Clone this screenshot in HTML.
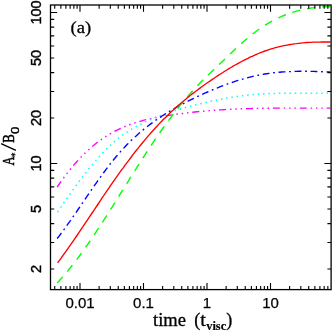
<!DOCTYPE html><html><head><meta charset="utf-8"><style>html,body{margin:0;padding:0;background:#fff}svg{display:block;will-change:transform}text{fill:#000;stroke:#000;stroke-width:0.3px}.s{font-family:"Liberation Sans",sans-serif;font-size:15px;stroke-width:0.25px}.sy{font-size:14.5px;stroke-width:0.42px}.r{font-family:"Liberation Serif",serif;font-size:18.5px}</style></head><body>
<svg width="333" height="332" viewBox="0 0 333 332">
<rect width="333" height="332" fill="#fff"/>
<path d="M57.2,187.1 L59.3,184.0 L61.4,180.9 L63.6,178.0 L65.7,175.1 L67.8,172.4 L69.9,169.7 L72.0,167.1 L74.1,164.6 L76.3,162.2 L78.4,159.9 L80.5,157.6 L82.6,155.5 L84.7,153.4 L86.8,151.3 L89.0,149.4 L91.1,147.5 L93.2,145.7 L95.3,144.0 L97.4,142.3 L99.6,140.7 L101.7,139.2 L103.8,137.8 L105.9,136.4 L108.0,135.0 L110.1,133.8 L112.3,132.6 L114.4,131.4 L116.5,130.3 L118.6,129.3 L120.7,128.3 L122.9,127.3 L125.0,126.5 L127.1,125.6 L129.2,124.8 L131.3,124.0 L133.4,123.3 L135.6,122.6 L137.7,122.0 L139.8,121.4 L141.9,120.8 L144.0,120.2 L146.1,119.7 L148.3,119.2 L150.4,118.7 L152.5,118.3 L154.6,117.9 L156.7,117.4 L158.9,117.1 L161.0,116.7 L163.1,116.3 L165.2,116.0 L167.3,115.6 L169.4,115.3 L171.6,115.0 L173.7,114.6 L175.8,114.3 L177.9,114.0 L180.0,113.8 L182.2,113.5 L184.3,113.2 L186.4,113.0 L188.5,112.7 L190.6,112.5 L192.7,112.2 L194.9,112.0 L197.0,111.8 L199.1,111.6 L201.2,111.4 L203.3,111.2 L205.4,111.0 L207.6,110.8 L209.7,110.6 L211.8,110.5 L213.9,110.3 L216.0,110.2 L218.2,110.0 L220.3,109.9 L222.4,109.8 L224.5,109.6 L226.6,109.5 L228.7,109.4 L230.9,109.3 L233.0,109.2 L235.1,109.1 L237.2,109.0 L239.3,108.9 L241.5,108.8 L243.6,108.8 L245.7,108.7 L247.8,108.6 L249.9,108.6 L252.0,108.5 L254.2,108.5 L256.3,108.4 L258.4,108.4 L260.5,108.3 L262.6,108.3 L264.7,108.2 L266.9,108.2 L269.0,108.2 L271.1,108.2 L273.2,108.1 L275.3,108.1 L277.5,108.1 L279.6,108.1 L281.7,108.1 L283.8,108.1 L285.9,108.1 L288.0,108.1 L290.2,108.1 L292.3,108.1 L294.4,108.1 L296.5,108.1 L298.6,108.1 L300.8,108.1 L302.9,108.1 L305.0,108.1 L307.1,108.1 L309.2,108.1 L311.3,108.1 L313.5,108.1 L315.6,108.1 L317.7,108.1 L319.8,108.1 L321.9,108.1 L324.0,108.1 L326.2,108.1 L328.3,108.1 L330.4,108.1" fill="none" stroke="#ff00ff" stroke-width="1.38" stroke-dasharray="7 3.85 1.5 3.85 1.5 3.85 1.5 3.85"/>
<path d="M57.6,212.1 L59.7,208.9 L61.8,205.8 L63.9,202.7 L66.1,199.7 L68.2,196.6 L70.3,193.6 L72.4,190.6 L74.5,187.7 L76.6,184.8 L78.7,181.9 L80.9,179.1 L83.0,176.3 L85.1,173.6 L87.2,170.9 L89.3,168.3 L91.4,165.7 L93.6,163.1 L95.7,160.7 L97.8,158.3 L99.9,155.9 L102.0,153.6 L104.1,151.4 L106.2,149.3 L108.4,147.2 L110.5,145.2 L112.6,143.2 L114.7,141.4 L116.8,139.6 L118.9,137.9 L121.0,136.3 L123.2,134.8 L125.3,133.3 L127.4,131.9 L129.5,130.5 L131.6,129.2 L133.7,128.0 L135.8,126.8 L138.0,125.6 L140.1,124.5 L142.2,123.5 L144.3,122.4 L146.4,121.4 L148.5,120.5 L150.6,119.5 L152.8,118.6 L154.9,117.8 L157.0,116.9 L159.1,116.1 L161.2,115.3 L163.3,114.5 L165.5,113.7 L167.6,113.0 L169.7,112.3 L171.8,111.6 L173.9,110.9 L176.0,110.3 L178.1,109.6 L180.3,109.0 L182.4,108.4 L184.5,107.8 L186.6,107.2 L188.7,106.6 L190.8,106.1 L192.9,105.5 L195.1,105.0 L197.2,104.5 L199.3,104.0 L201.4,103.4 L203.5,102.9 L205.6,102.5 L207.7,102.0 L209.9,101.5 L212.0,101.0 L214.1,100.6 L216.2,100.2 L218.3,99.7 L220.4,99.3 L222.5,98.9 L224.7,98.5 L226.8,98.1 L228.9,97.8 L231.0,97.4 L233.1,97.1 L235.2,96.8 L237.4,96.4 L239.5,96.2 L241.6,95.9 L243.7,95.6 L245.8,95.3 L247.9,95.1 L250.0,94.9 L252.2,94.7 L254.3,94.5 L256.4,94.3 L258.5,94.2 L260.6,94.0 L262.7,93.9 L264.8,93.8 L267.0,93.7 L269.1,93.6 L271.2,93.5 L273.3,93.5 L275.4,93.4 L277.5,93.3 L279.6,93.3 L281.8,93.3 L283.9,93.3 L286.0,93.2 L288.1,93.2 L290.2,93.2 L292.3,93.2 L294.4,93.2 L296.6,93.2 L298.7,93.2 L300.8,93.2 L302.9,93.2 L305.0,93.2 L307.1,93.2 L309.3,93.2 L311.4,93.2 L313.5,93.2 L315.6,93.2 L317.7,93.2 L319.8,93.2 L321.9,93.2 L324.1,93.2 L326.2,93.1 L328.3,93.1 L330.4,93.0" fill="none" stroke="#00ffff" stroke-width="1.5" stroke-dasharray="1.5 3.8"/>
<path d="M57.2,238.5 L59.3,235.8 L61.4,233.0 L63.6,230.1 L65.7,227.2 L67.8,224.2 L69.9,221.3 L72.0,218.2 L74.1,215.2 L76.3,212.1 L78.4,209.0 L80.5,205.9 L82.6,202.8 L84.7,199.7 L86.8,196.6 L89.0,193.5 L91.1,190.4 L93.2,187.3 L95.3,184.3 L97.4,181.3 L99.6,178.3 L101.7,175.4 L103.8,172.5 L105.9,169.6 L108.0,166.8 L110.1,164.1 L112.3,161.4 L114.4,158.8 L116.5,156.3 L118.6,153.8 L120.7,151.4 L122.9,149.0 L125.0,146.8 L127.1,144.6 L129.2,142.4 L131.3,140.3 L133.4,138.3 L135.6,136.4 L137.7,134.5 L139.8,132.6 L141.9,130.8 L144.0,129.1 L146.1,127.4 L148.3,125.7 L150.4,124.1 L152.5,122.6 L154.6,121.0 L156.7,119.6 L158.9,118.1 L161.0,116.7 L163.1,115.3 L165.2,114.0 L167.3,112.7 L169.4,111.4 L171.6,110.1 L173.7,108.9 L175.8,107.7 L177.9,106.5 L180.0,105.3 L182.2,104.2 L184.3,103.1 L186.4,102.0 L188.5,100.9 L190.6,99.9 L192.7,98.8 L194.9,97.8 L197.0,96.8 L199.1,95.8 L201.2,94.8 L203.3,93.9 L205.4,92.9 L207.6,92.0 L209.7,91.1 L211.8,90.2 L213.9,89.3 L216.0,88.4 L218.2,87.6 L220.3,86.7 L222.4,85.9 L224.5,85.1 L226.6,84.3 L228.7,83.5 L230.9,82.8 L233.0,82.1 L235.1,81.4 L237.2,80.7 L239.3,80.0 L241.5,79.4 L243.6,78.8 L245.7,78.2 L247.8,77.6 L249.9,77.1 L252.0,76.6 L254.2,76.1 L256.3,75.6 L258.4,75.2 L260.5,74.8 L262.6,74.4 L264.7,74.0 L266.9,73.7 L269.0,73.4 L271.1,73.1 L273.2,72.8 L275.3,72.6 L277.5,72.4 L279.6,72.2 L281.7,72.0 L283.8,71.9 L285.9,71.8 L288.0,71.6 L290.2,71.6 L292.3,71.5 L294.4,71.4 L296.5,71.4 L298.6,71.3 L300.8,71.3 L302.9,71.3 L305.0,71.3 L307.1,71.3 L309.2,71.4 L311.3,71.4 L313.5,71.4 L315.6,71.5 L317.7,71.6 L319.8,71.6 L321.9,71.7 L324.0,71.8 L326.2,71.9 L328.3,71.9 L330.4,72.0" fill="none" stroke="#0000ff" stroke-width="1.38" stroke-dasharray="6.9 3.65 1.8 3.65"/>
<path d="M57.2,282.9 L59.3,280.7 L61.4,278.3 L63.6,275.9 L65.7,273.5 L67.8,270.9 L69.9,268.3 L72.0,265.7 L74.1,263.0 L76.3,260.2 L78.4,257.4 L80.5,254.5 L82.6,251.5 L84.7,248.6 L86.8,245.6 L89.0,242.5 L91.1,239.4 L93.2,236.3 L95.3,233.1 L97.4,229.9 L99.6,226.6 L101.7,223.4 L103.8,220.1 L105.9,216.8 L108.0,213.5 L110.1,210.1 L112.3,206.8 L114.4,203.4 L116.5,200.0 L118.6,196.6 L120.7,193.2 L122.9,189.8 L125.0,186.4 L127.1,183.1 L129.2,179.7 L131.3,176.3 L133.4,172.9 L135.6,169.5 L137.7,166.2 L139.8,162.9 L141.9,159.6 L144.0,156.3 L146.1,153.0 L148.3,149.8 L150.4,146.5 L152.5,143.4 L154.6,140.2 L156.7,137.1 L158.9,134.0 L161.0,131.0 L163.1,128.0 L165.2,125.1 L167.3,122.1 L169.4,119.3 L171.6,116.5 L173.7,113.7 L175.8,110.9 L177.9,108.3 L180.0,105.6 L182.2,103.0 L184.3,100.5 L186.4,98.0 L188.5,95.5 L190.6,93.1 L192.7,90.7 L194.9,88.4 L197.0,86.1 L199.1,83.9 L201.2,81.7 L203.3,79.6 L205.4,77.5 L207.6,75.4 L209.7,73.4 L211.8,71.4 L213.9,69.4 L216.0,67.4 L218.2,65.4 L220.3,63.4 L222.4,61.4 L224.5,59.4 L226.6,57.4 L228.7,55.3 L230.9,53.3 L233.0,51.3 L235.1,49.3 L237.2,47.4 L239.3,45.4 L241.5,43.5 L243.6,41.6 L245.7,39.8 L247.8,38.0 L249.9,36.2 L252.0,34.5 L254.2,32.8 L256.3,31.2 L258.4,29.7 L260.5,28.2 L262.6,26.8 L264.7,25.4 L266.9,24.1 L269.0,22.8 L271.1,21.6 L273.2,20.5 L275.3,19.4 L277.5,18.4 L279.6,17.4 L281.7,16.4 L283.8,15.5 L285.9,14.7 L288.0,13.9 L290.2,13.1 L292.3,12.4 L294.4,11.8 L296.5,11.2 L298.6,10.6 L300.8,10.1 L302.9,9.6 L305.0,9.1 L307.1,8.7 L309.2,8.4 L311.3,8.0 L313.5,7.8 L315.6,7.5 L317.7,7.3 L319.8,7.1 L321.9,6.9 L324.0,6.8 L326.2,6.7 L328.3,6.7 L330.4,6.7" fill="none" stroke="#00ff00" stroke-width="1.38" stroke-dasharray="8.15 7.0"/>
<path d="M57.6,262.9 L59.7,260.1 L61.8,257.2 L63.9,254.2 L66.1,251.2 L68.2,248.2 L70.3,245.2 L72.4,242.2 L74.5,239.1 L76.6,236.0 L78.7,232.9 L80.9,229.7 L83.0,226.6 L85.1,223.4 L87.2,220.3 L89.3,217.1 L91.4,214.0 L93.6,210.8 L95.7,207.6 L97.8,204.5 L99.9,201.3 L102.0,198.2 L104.1,195.0 L106.2,191.9 L108.4,188.8 L110.5,185.7 L112.6,182.7 L114.7,179.6 L116.8,176.6 L118.9,173.7 L121.0,170.7 L123.2,167.8 L125.3,164.9 L127.4,162.1 L129.5,159.3 L131.6,156.5 L133.7,153.7 L135.8,151.0 L138.0,148.4 L140.1,145.7 L142.2,143.2 L144.3,140.6 L146.4,138.1 L148.5,135.6 L150.6,133.2 L152.8,130.8 L154.9,128.5 L157.0,126.2 L159.1,123.9 L161.2,121.7 L163.3,119.6 L165.5,117.4 L167.6,115.4 L169.7,113.3 L171.8,111.3 L173.9,109.4 L176.0,107.5 L178.1,105.6 L180.3,103.7 L182.4,101.9 L184.5,100.2 L186.6,98.4 L188.7,96.7 L190.8,95.0 L192.9,93.4 L195.1,91.8 L197.2,90.2 L199.3,88.6 L201.4,87.0 L203.5,85.5 L205.6,84.0 L207.7,82.5 L209.9,81.1 L212.0,79.6 L214.1,78.2 L216.2,76.8 L218.3,75.4 L220.4,74.0 L222.5,72.7 L224.7,71.3 L226.8,70.0 L228.9,68.7 L231.0,67.5 L233.1,66.2 L235.2,65.0 L237.4,63.8 L239.5,62.6 L241.6,61.5 L243.7,60.4 L245.8,59.3 L247.9,58.3 L250.0,57.2 L252.2,56.3 L254.3,55.3 L256.4,54.4 L258.5,53.5 L260.6,52.6 L262.7,51.8 L264.8,51.0 L267.0,50.3 L269.1,49.6 L271.2,48.9 L273.3,48.3 L275.4,47.7 L277.5,47.2 L279.6,46.6 L281.8,46.1 L283.9,45.7 L286.0,45.3 L288.1,44.9 L290.2,44.5 L292.3,44.2 L294.4,43.8 L296.6,43.6 L298.7,43.3 L300.8,43.1 L302.9,42.9 L305.0,42.7 L307.1,42.5 L309.3,42.4 L311.4,42.3 L313.5,42.2 L315.6,42.1 L317.7,42.1 L319.8,42.1 L321.9,42.0 L324.1,42.0 L326.2,42.0 L328.3,42.0 L330.4,42.0" fill="none" stroke="#ff0000" stroke-width="1.35"/>
<path d="M54.73,289.6v-3.7M54.73,5.0v3.7M60.88,289.6v-3.7M60.88,5.0v3.7M65.91,289.6v-3.7M65.91,5.0v3.7M70.16,289.6v-3.7M70.16,5.0v3.7M73.85,289.6v-3.7M73.85,5.0v3.7M77.09,289.6v-3.7M77.09,5.0v3.7M80.00,289.6v-6.7M80.00,5.0v6.7M99.12,289.6v-3.7M99.12,5.0v3.7M110.30,289.6v-3.7M110.30,5.0v3.7M118.23,289.6v-3.7M118.23,5.0v3.7M124.38,289.6v-3.7M124.38,5.0v3.7M129.41,289.6v-3.7M129.41,5.0v3.7M133.66,289.6v-3.7M133.66,5.0v3.7M137.35,289.6v-3.7M137.35,5.0v3.7M140.59,289.6v-3.7M140.59,5.0v3.7M143.50,289.6v-6.7M143.50,5.0v6.7M162.62,289.6v-3.7M162.62,5.0v3.7M173.80,289.6v-3.7M173.80,5.0v3.7M181.73,289.6v-3.7M181.73,5.0v3.7M187.88,289.6v-3.7M187.88,5.0v3.7M192.91,289.6v-3.7M192.91,5.0v3.7M197.16,289.6v-3.7M197.16,5.0v3.7M200.85,289.6v-3.7M200.85,5.0v3.7M204.09,289.6v-3.7M204.09,5.0v3.7M207.00,289.6v-6.7M207.00,5.0v6.7M226.12,289.6v-3.7M226.12,5.0v3.7M237.30,289.6v-3.7M237.30,5.0v3.7M245.23,289.6v-3.7M245.23,5.0v3.7M251.38,289.6v-3.7M251.38,5.0v3.7M256.41,289.6v-3.7M256.41,5.0v3.7M260.66,289.6v-3.7M260.66,5.0v3.7M264.35,289.6v-3.7M264.35,5.0v3.7M267.59,289.6v-3.7M267.59,5.0v3.7M270.50,289.6v-6.7M270.50,5.0v6.7M289.62,289.6v-3.7M289.62,5.0v3.7M300.80,289.6v-3.7M300.80,5.0v3.7M308.73,289.6v-3.7M308.73,5.0v3.7M314.88,289.6v-3.7M314.88,5.0v3.7M319.91,289.6v-3.7M319.91,5.0v3.7M324.16,289.6v-3.7M324.16,5.0v3.7M327.85,289.6v-3.7M327.85,5.0v3.7M50.5,269.04h3.7M331.1,269.04h-3.7M50.5,242.45h3.7M331.1,242.45h-3.7M50.5,223.59h3.7M331.1,223.59h-3.7M50.5,208.96h3.7M331.1,208.96h-3.7M50.5,197.00h3.7M331.1,197.00h-3.7M50.5,186.89h3.7M331.1,186.89h-3.7M50.5,178.13h3.7M331.1,178.13h-3.7M50.5,170.41h3.7M331.1,170.41h-3.7M50.5,163.50h6.7M331.1,163.50h-6.7M50.5,118.04h3.7M331.1,118.04h-3.7M50.5,91.45h3.7M331.1,91.45h-3.7M50.5,72.59h3.7M331.1,72.59h-3.7M50.5,57.96h3.7M331.1,57.96h-3.7M50.5,46.00h3.7M331.1,46.00h-3.7M50.5,35.89h3.7M331.1,35.89h-3.7M50.5,27.13h3.7M331.1,27.13h-3.7M50.5,19.41h3.7M331.1,19.41h-3.7M50.5,12.50h6.7M331.1,12.50h-6.7" stroke="#000" stroke-width="1.1" fill="none"/>
<rect x="50.5" y="5.0" width="280.6" height="284.6" fill="none" stroke="#000" stroke-width="1.3"/>
<text class="s" x="80.0" y="308" text-anchor="middle">0.01</text>
<text class="s" x="143.5" y="308" text-anchor="middle">0.1</text>
<text class="s" x="207.0" y="308" text-anchor="middle">1</text>
<text class="s" x="270.5" y="308" text-anchor="middle">10</text>
<text class="s sy" transform="translate(40.8,12.5) rotate(-90)" text-anchor="middle">100</text>
<text class="s sy" transform="translate(40.8,58.0) rotate(-90)" text-anchor="middle">50</text>
<text class="s sy" transform="translate(40.8,118.0) rotate(-90)" text-anchor="middle">20</text>
<text class="s sy" transform="translate(40.8,163.5) rotate(-90)" text-anchor="middle">10</text>
<text class="s sy" transform="translate(40.8,209.0) rotate(-90)" text-anchor="middle">5</text>
<text class="s sy" transform="translate(40.8,269.0) rotate(-90)" text-anchor="middle">2</text>
<text x="70.6" y="32.7" style="font-family:'Liberation Serif',serif;font-size:17.6px;stroke-width:0.3px" textLength="20.6" lengthAdjust="spacingAndGlyphs">(a)</text>
<text x="153" y="326.4" style="font-family:'Liberation Serif',serif;font-size:18px" textLength="32.9" lengthAdjust="spacingAndGlyphs">time</text>
<text x="194.3" y="326.4" style="font-family:'Liberation Serif',serif;font-size:18px">(</text>
<text x="200.3" y="326.4" style="font-family:'Liberation Serif',serif;font-size:18px" textLength="5.6" lengthAdjust="spacingAndGlyphs">t</text>
<text x="206.2" y="330.2" style="font-family:'Liberation Serif',serif;font-size:11.5px;font-weight:bold;stroke-width:0.15px" textLength="20" lengthAdjust="spacingAndGlyphs">visc</text>
<text x="226.3" y="326.4" style="font-family:'Liberation Serif',serif;font-size:18px">)</text>
<g transform="translate(13.9,165.6) rotate(-90)"><text x="0" y="0" style="font-family:'Liberation Serif',serif;font-size:17px;stroke-width:0.55px" textLength="9.2" lengthAdjust="spacingAndGlyphs">A</text><path d="M10.9,-2.8v4.4M9,-1.7l3.8,2.2M9,0.5l3.8,-2.2" stroke="#000" stroke-width="0.9" fill="none"/><path d="M15.3,2L22,-12.8" stroke="#000" stroke-width="1.4" fill="none"/><text x="22.9" y="0" style="font-family:'Liberation Serif',serif;font-size:17px;stroke-width:0.55px" textLength="8.5" lengthAdjust="spacingAndGlyphs">B</text><text x="31.6" y="4.7" style="font-family:'Liberation Sans',sans-serif;font-size:11.6px;stroke-width:0.4px" textLength="7.3" lengthAdjust="spacingAndGlyphs">0</text></g>
</svg></body></html>
